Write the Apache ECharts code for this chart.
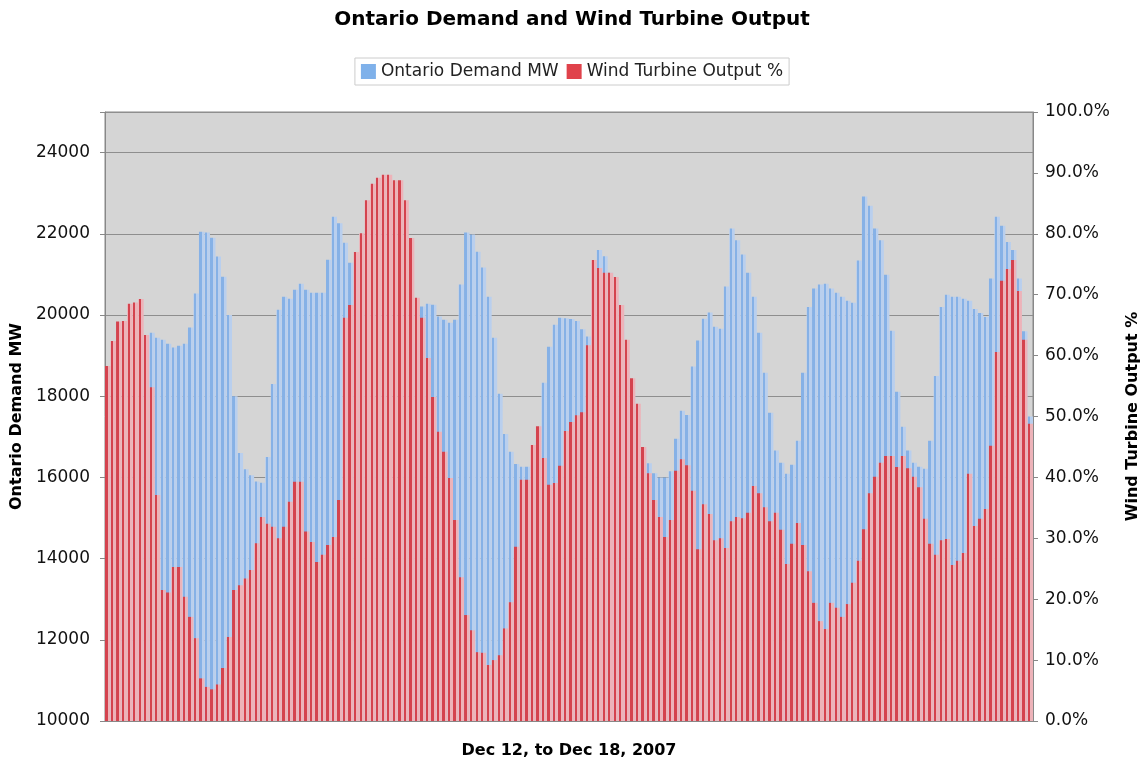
<!DOCTYPE html>
<html>
<head>
<meta charset="utf-8">
<script src="https://cdn.jsdelivr.net/npm/echarts/dist/echarts.min.js"></script>
<style>
  html, body { margin: 0; padding: 0; background: #ffffff; overflow: hidden; }
  #chart { width: 1144px; height: 763px; }
</style>
</head>
<body>
<div id="chart"></div>
<script>
// ---- DATA ----
const days = ['Dec 12', 'Dec 13', 'Dec 14', 'Dec 15', 'Dec 16', 'Dec 17', 'Dec 18'];
const hours = ['00','01','02','03','04','05','06','07','08','09','10','11',
               '12','13','14','15','16','17','18','19','20','21','22','23'];

// Ontario Demand MW, hourly
const demandMW = [
  17300,16500,16100,15900,15900,16300,17400,18900,
  19560,19440,19390,19290,19200,19240,19290,19690,
  20530,22050,22030,21900,21440,20940,20000,18000,
  16600,16200,16050,15900,15870,16500,18300,20130,
  20450,20400,20620,20770,20620,20550,20550,20550,
  21360,22420,22260,21780,21290,20700,20100,19000,
  17600,16700,16200,15900,15800,15900,16300,17400,
  19300,20210,20280,20250,19960,19880,19810,19880,
  20750,22030,21980,21560,21170,20450,19440,18060,
  17070,16630,16330,16260,16260,16300,16900,18330,
  19220,19760,19930,19920,19900,19850,19650,19470,
  21300,21600,21450,21040,20500,19900,19000,18000,
  17200,16700,16350,16100,16000,16000,16150,16950,
  17640,17540,18730,19370,19910,20060,19710,19660,
  20700,22130,21840,21490,21040,20450,19560,18580,
  17590,16660,16360,16090,16310,16900,18580,20200,
  20650,20750,20770,20650,20550,20450,20350,20300,
  21340,22920,22690,22130,21840,20990,19610,18110,
  17250,16660,16360,16260,16210,16900,18500,20200,
  20500,20450,20450,20400,20350,20150,20050,19950,
  20900,22420,22200,21800,21600,20900,19600,17500
];

// Wind Turbine Output %, hourly
const windPct = [
  58.3,62.4,65.6,65.7,68.5,68.7,69.3,63.4, 54.8,37.1,21.5,21.1,25.3,25.3,20.4,17.1, 13.6,7.0,5.6,5.2,6.0,8.7,13.8,21.5,
  22.3,23.4,24.8,29.2,33.5,32.4,31.9,30.0, 31.9,36.0,39.3,39.3,31.1,29.4,26.1,27.3, 28.9,30.2,36.3,66.2,68.3,77.0,80.1,85.5,
  88.2,89.2,89.7,89.7,88.8,88.8,85.5,79.3, 69.5,66.2,59.6,53.2,47.5,44.2,39.9,33.0, 23.6,17.4,14.9,11.3,11.2,9.2,10.0,10.8,
  15.2,19.5,28.6,39.6,39.6,45.3,48.4,43.2, 38.8,39.1,41.9,47.6,49.1,50.2,50.7,61.7, 75.7,74.4,73.6,73.6,72.9,68.3,62.6,56.3,
  52.1,45.0,40.7,36.3,33.5,30.2,33.0,41.1, 43.0,42.0,37.8,28.2,35.6,34.0,29.7,30.0, 28.4,32.8,33.5,33.3,34.2,38.6,37.4,35.1,
  32.8,34.2,31.4,25.8,29.1,32.5,28.9,24.6, 19.4,16.4,15.1,19.4,18.6,17.1,19.2,22.7, 26.3,31.5,37.4,40.1,42.4,43.5,43.5,41.7,
  43.5,41.5,40.1,38.4,33.2,29.1,27.3,29.7, 29.9,25.6,26.3,27.6,40.6,32.0,33.2,34.8, 45.2,60.6,72.3,74.2,75.7,70.6,62.6,48.8
];

const demandTicks = { min: 10000, max: 25000, interval: 2000 };
const windTicks = { min: 0, max: 100, interval: 10 };

// ---- BUILD ----
const categories = [];
days.forEach(d => hours.forEach(h => categories.push(d + ' ' + h + ':00')));

const FONT = 'DejaVu Sans';
function stripe(dark, light) {
  return new echarts.graphic.LinearGradient(0, 0, 1, 0, [
    { offset: 0, color: light },
    { offset: 0.08, color: light },
    { offset: 0.08, color: dark },
    { offset: 0.5, color: dark },
    { offset: 0.5, color: light },
    { offset: 1, color: light }
  ]);
}

const chart = echarts.init(document.getElementById('chart'), null, { renderer: 'canvas' });
chart.setOption({
  animation: false,
  backgroundColor: '#ffffff',
  title: {
    text: 'Ontario Demand and Wind Turbine Output',
    left: 'center',
    top: 5,
    textStyle: { fontFamily: FONT, fontWeight: 'bold', fontSize: 20, color: '#000' }
  },
  legend: {
    top: 58,
    left: 'center',
    icon: 'rect',
    itemWidth: 15,
    itemHeight: 15,
    itemGap: 8,
    backgroundColor: '#ffffff',
    borderColor: '#cccccc',
    borderWidth: 1,
    padding: [5, 6, 5, 6],
    textStyle: { fontFamily: FONT, fontSize: 17, color: '#222' },
    data: [
      { name: 'Ontario Demand MW', itemStyle: { color: '#7fb1ea' } },
      { name: 'Wind Turbine Output %', itemStyle: { color: '#e0424b' } }
    ]
  },
  grid: {
    left: 105, right: 111, top: 112, bottom: 42,
    containLabel: false,
    outerBoundsMode: 'none',
    show: true,
    backgroundColor: '#d5d5d5',
    borderColor: '#888888',
    borderWidth: 1
  },
  xAxis: {
    type: 'category',
    data: categories,
    axisLabel: { show: false },
    axisTick: { show: false },
    axisLine: { lineStyle: { color: '#888' } },
    name: 'Dec 12, to Dec 18, 2007',
    nameLocation: 'middle',
    nameGap: 22,
    nameTextStyle: { fontFamily: FONT, fontWeight: 'bold', fontSize: 16, color: '#000' }
  },
  yAxis: [
    {
      type: 'value',
      position: 'left',
      min: demandTicks.min, max: demandTicks.max, interval: demandTicks.interval,
      axisLine: { show: true, lineStyle: { color: '#888' } },
      axisTick: { show: true, length: 5, lineStyle: { color: '#888' } },
      axisLabel: {
        margin: 15,
        fontFamily: FONT, fontSize: 17, color: '#111',
        formatter: v => (v === demandTicks.max ? '' : String(v))
      },
      splitLine: { show: true, lineStyle: { color: '#8e8e8e', width: 1 } },
      name: 'Ontario Demand MW',
      nameLocation: 'middle',
      nameGap: 80,
      nameRotate: 90,
      nameTextStyle: { fontFamily: FONT, fontWeight: 'bold', fontSize: 16, color: '#000' }
    },
    {
      type: 'value',
      position: 'right',
      min: windTicks.min, max: windTicks.max, interval: windTicks.interval,
      axisLine: { show: true, lineStyle: { color: '#888' } },
      axisTick: { show: true, length: 5, lineStyle: { color: '#888' } },
      axisLabel: {
        margin: 12,
        fontFamily: FONT, fontSize: 17, color: '#111',
        formatter: v => v.toFixed(1) + '%'
      },
      splitLine: { show: false },
      name: 'Wind Turbine Output %',
      nameLocation: 'middle',
      nameGap: 92,
      nameRotate: 90,
      nameTextStyle: { fontFamily: FONT, fontWeight: 'bold', fontSize: 16, color: '#000' }
    }
  ],
  series: [
    {
      name: 'Ontario Demand MW',
      type: 'bar',
      yAxisIndex: 0,
      data: demandMW,
      barGap: '-100%',
      barCategoryGap: '0%',
      itemStyle: { color: stripe('#86b1e6', '#b9cfee') },
      emphasis: { disabled: true }
    },
    {
      name: 'Wind Turbine Output %',
      type: 'bar',
      yAxisIndex: 1,
      data: windPct,
      barGap: '-100%',
      barCategoryGap: '0%',
      itemStyle: { color: stripe('#d4434e', '#edb3b9') },
      emphasis: { disabled: true }
    }
  ]
});
</script>
</body>
</html>
